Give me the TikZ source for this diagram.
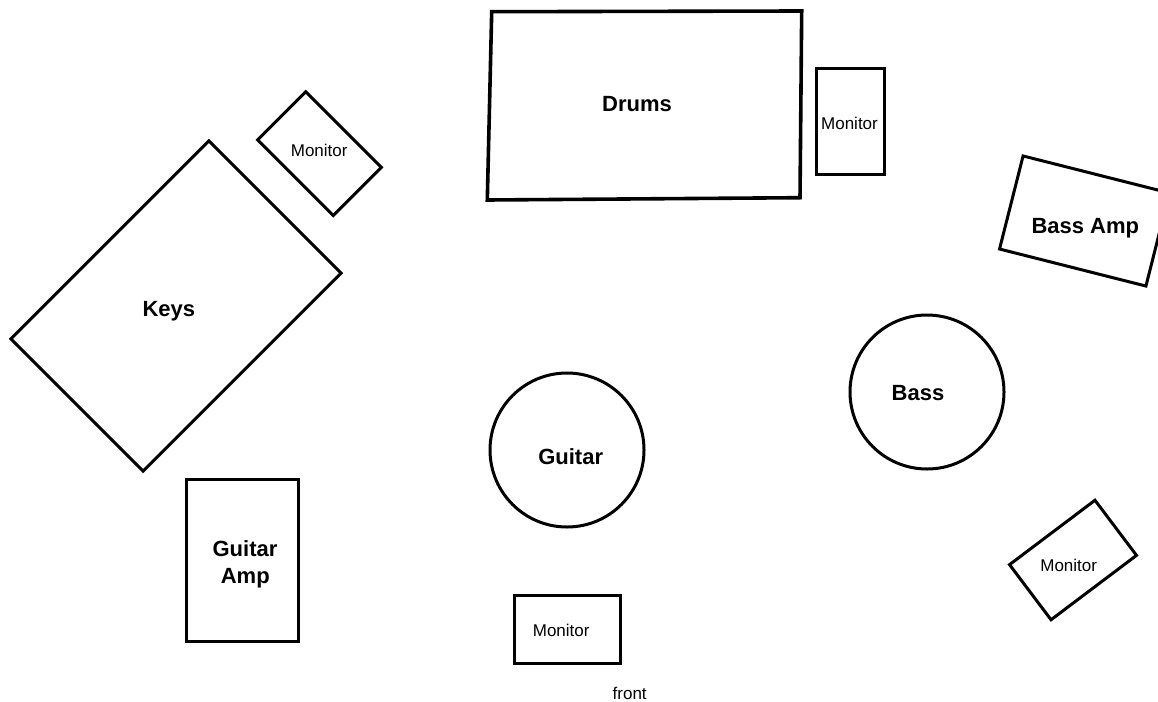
\documentclass[tikz,border=0pt]{standalone}
\usepackage{fontspec}
\setmainfont{Liberation Sans}
\begin{document}
\begin{tikzpicture}[x=1pt,y=-1pt,
  outline/.style={draw=black,line width=3pt,inner sep=0pt,outer sep=0pt,line join=miter},
  boxshape/.style={outline,rectangle},
  roundshape/.style={outline,circle,minimum size=154pt},
  biglabel/.style={font=\fontsize{22}{22}\selectfont\bfseries,inner sep=0pt,anchor=base},
  smalllabel/.style={font=\fontsize{17}{17}\selectfont,inner sep=0pt,anchor=base}]
\fill[white] (0,0) rectangle (1158,701);
\path[use as bounding box,clip] (0,0) rectangle (1158,701);

% Drums (hand-drawn, slightly skewed)
\coordinate (drTL) at (491.7,11.7);
\coordinate (drTR) at (801.7,11);
\coordinate (drBR) at (800,197.7);
\coordinate (drBL) at (487.3,200);
\draw[line width=3.6pt,line join=miter] (drTL) -- (drTR) -- (drBR) -- (drBL) -- cycle;
\node[biglabel] (drums) at (637,111.7) {Drums};

% Drum monitor
\node[boxshape,minimum width=68pt,minimum height=106pt] (drmon) at (850,121.3) {};
\node[smalllabel] (drmontext) at (849.5,129) {Monitor};

% Keys
\node[boxshape,minimum width=280pt,minimum height=187pt,rotate=45] (keys) at (176,306) {};
\node[biglabel] (keystext) at (168.8,316.7) {Keys};

% Keys monitor
\node[boxshape,minimum width=107pt,minimum height=68pt,rotate=-45] (keymon) at (319.5,153.6) {};
\node[smalllabel] (keymontext) at (319.2,156.7) {Monitor};

% Bass amp
\node[boxshape,minimum width=151pt,minimum height=96pt,rotate=-14.2] (bassamp) at (1084.5,221) {};
\node[biglabel] (bassamptext) at (1085.3,233.3) {Bass Amp};

% Bass
\node[roundshape] (bass) at (927,392) {};
\node[biglabel] (basstext) at (918,400) {Bass};

% Guitar
\node[roundshape] (guitar) at (567,450) {};
\node[biglabel] (guitartext) at (570.7,464) {Guitar};

% Guitar amp
\node[boxshape,minimum width=112pt,minimum height=162pt] (gamp) at (242.5,560.5) {};
\node[biglabel] (gamptextA) at (245,556.7) {Guitar};
\node[biglabel] (gamptextB) at (245.3,583.3) {Amp};

% Bass monitor
\node[boxshape,minimum width=107pt,minimum height=69pt,rotate=37] (bassmon) at (1073,560) {};
\node[smalllabel] (bassmontext) at (1068.7,571) {Monitor};

% Front monitor
\node[boxshape,minimum width=106pt,minimum height=68pt] (frontmon) at (567,629.5) {};
\node[smalllabel] (frontmontext) at (561.2,636.7) {Monitor};

% front
\node[smalllabel] (front) at (629.7,699) {front};
\end{tikzpicture}
\end{document}
